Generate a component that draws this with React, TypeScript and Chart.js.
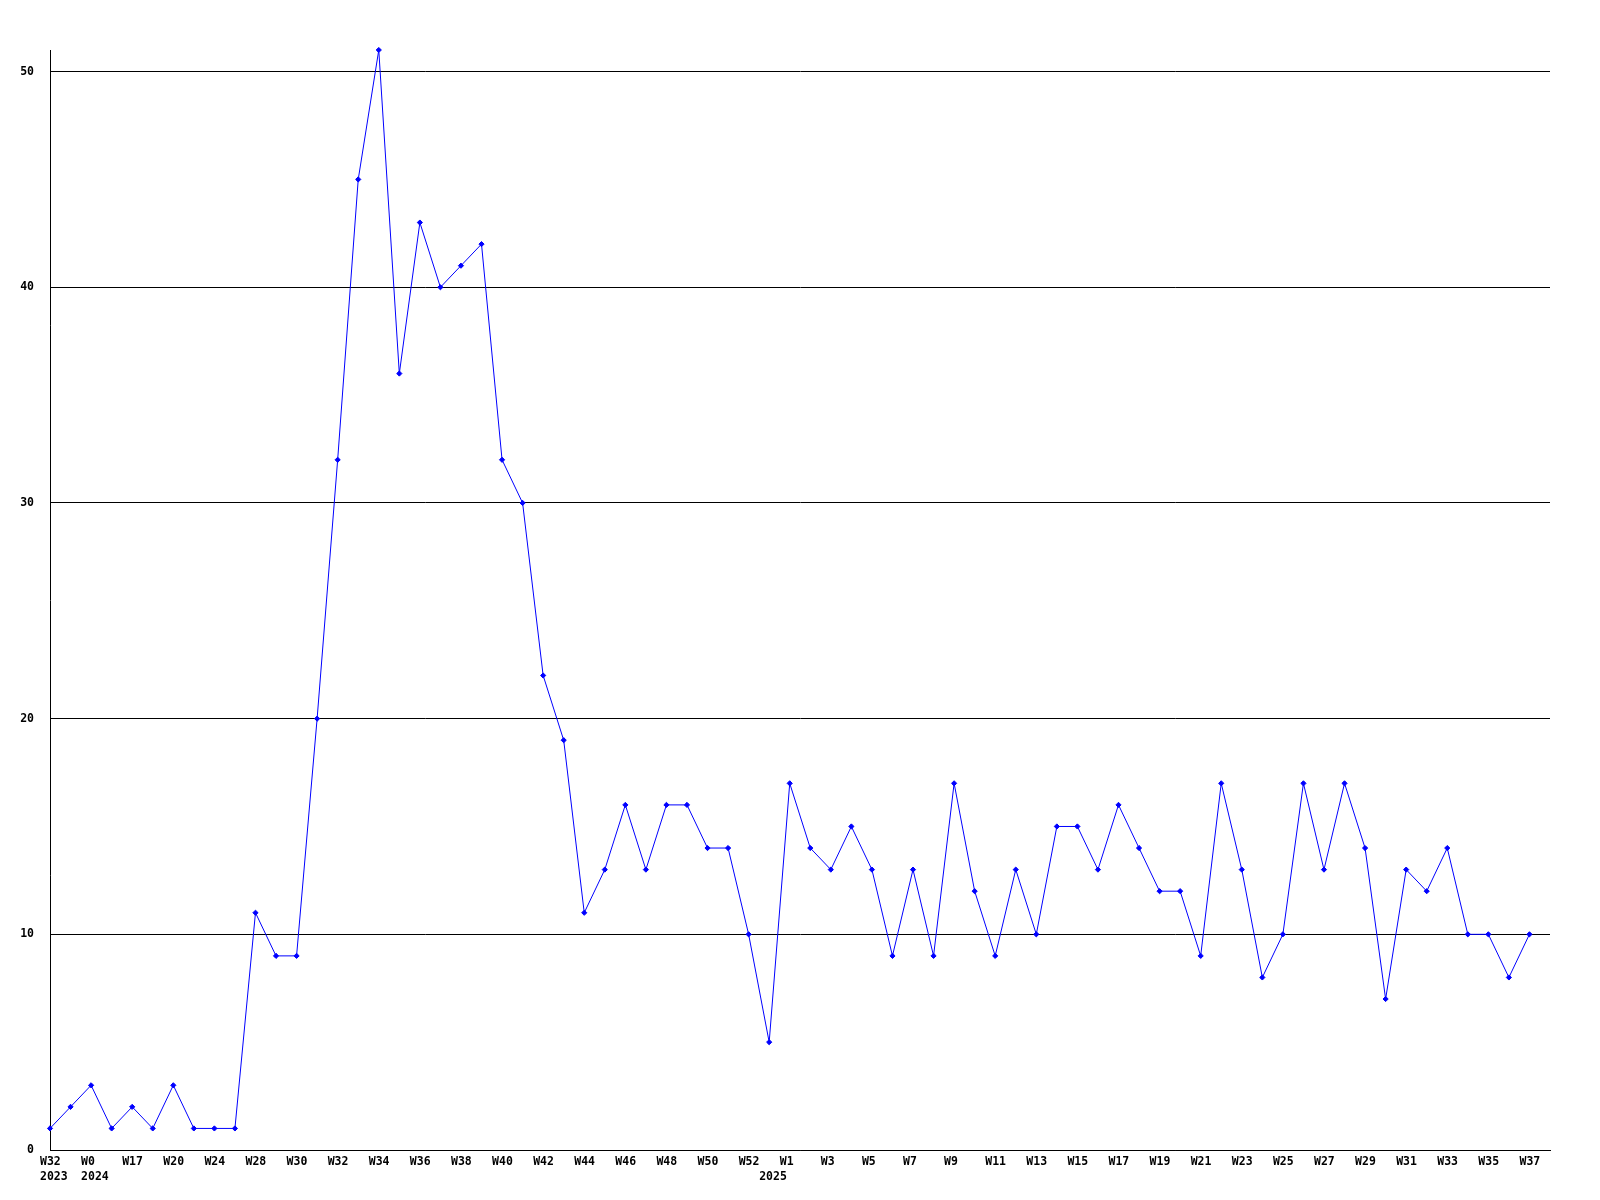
import React, { useEffect, useRef } from "react";
import { Chart, registerables } from "chart.js";

Chart.register(...registerables);

// Week labels for each point (odd-index labels are not printed on the axis)
const weeks: string[] = [
  "W32", "W40", "W0", "W16", "W17", "W18", "W20", "W22", "W24", "W26",
  "W28", "W29", "W30", "W31", "W32", "W33", "W34", "W35", "W36", "W37",
  "W38", "W39", "W40", "W41", "W42", "W43", "W44", "W45", "W46", "W47",
  "W48", "W49", "W50", "W51", "W52", "W0", "W1", "W2", "W3", "W4",
  "W5", "W6", "W7", "W8", "W9", "W10", "W11", "W12", "W13", "W14",
  "W15", "W16", "W17", "W18", "W19", "W20", "W21", "W22", "W23", "W24",
  "W25", "W26", "W27", "W28", "W29", "W30", "W31", "W32", "W33", "W34",
  "W35", "W36", "W37",
];

// Year shown under the first point of each year
const yearMarks: Record<number, string> = { 0: "2023", 2: "2024", 35: "2025" };

const values: number[] = [
  1, 2, 3, 1, 2, 1, 3, 1, 1, 1,
  11, 9, 9, 20, 32, 45, 51, 36, 43, 40,
  41, 42, 32, 30, 22, 19, 11, 13, 16, 13,
  16, 16, 14, 14, 10, 5, 17, 14, 13, 15,
  13, 9, 13, 9, 17, 12, 9, 13, 10, 15,
  15, 13, 16, 14, 12, 12, 9, 17, 13, 8,
  10, 17, 13, 17, 14, 7, 13, 12, 14, 10,
  10, 8, 10,
];

const yTicks: number[] = [0, 10, 20, 30, 40, 50];
const yMax = 51;

const FONT_FAMILY = '"DejaVu Sans Mono", "Liberation Mono", monospace';

export default function App() {
  const canvasRef = useRef<HTMLCanvasElement | null>(null);

  useEffect(() => {
    document.body.style.margin = "0";
    document.body.style.overflow = "hidden";
    const canvas = canvasRef.current;
    if (!canvas) return;

    const points = values.map((v, i) => ({ x: i, y: v }));

    const chart = new Chart(canvas, {
      type: "line",
      data: {
        datasets: [
          {
            data: points,
            borderColor: "#0000ff",
            backgroundColor: "#0000ff",
            borderWidth: 1,
            tension: 0,
            pointStyle: "rectRot",
            pointRadius: 2.6,
            pointBorderWidth: 1,
            pointBackgroundColor: "#0000ff",
            pointBorderColor: "#0000ff",
            clip: 8,
          } as any,
        ],
      },
      options: {
        animation: false,
        responsive: false,
        maintainAspectRatio: false,
        devicePixelRatio: 1,
        layout: { padding: { top: 50, right: 50, left: 0, bottom: 0 } },
        plugins: {
          legend: { display: false },
          tooltip: { enabled: false },
          title: { display: false },
        },
        scales: {
          x: {
            type: "linear",
            min: 0,
            max: weeks.length,
            grid: { display: false, drawTicks: false },
            border: { display: true, color: "#000000", width: 1 },
            afterFit: (scale: any) => {
              scale.height = 50;
            },
            ticks: {
              stepSize: 1,
              autoSkip: false,
              maxRotation: 0,
              minRotation: 0,
              align: "start",
              labelOffset: -10,
              padding: 5,
              color: "#000000",
              font: { family: FONT_FAMILY, size: 11.5, weight: "bold", lineHeight: 1.3 },
              callback: (value: any) => {
                const idx = Number(value);
                if (!Number.isInteger(idx) || idx < 0 || idx >= weeks.length) return "";
                const wk = idx % 2 === 0 ? weeks[idx] : "";
                const yr = yearMarks[idx];
                if (yr) return [wk, yr];
                return wk;
              },
            },
          },
          y: {
            type: "linear",
            min: 0,
            max: yMax,
            grid: { display: true, color: "#000000", lineWidth: 1, drawTicks: false },
            border: { display: true, color: "#000000", width: 1 },
            afterFit: (scale: any) => {
              scale.width = 50;
            },
            afterBuildTicks: (scale: any) => {
              scale.ticks = yTicks.map((v) => ({ value: v }));
            },
            ticks: {
              includeBounds: false,
              padding: 16,
              color: "#000000",
              font: { family: FONT_FAMILY, size: 11.5, weight: "bold" },
            },
          },
        },
      } as any,
    });

    return () => {
      chart.destroy();
    };
  }, []);

  return (
    <div style={{ width: 1600, height: 1200, background: "#ffffff" }}>
      <canvas ref={canvasRef} width={1600} height={1200} style={{ display: "block", width: 1600, height: 1200 }} />
    </div>
  );
}
